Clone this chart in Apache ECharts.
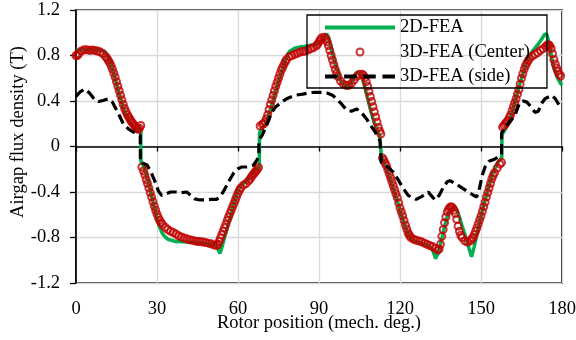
<!DOCTYPE html>
<html>
<head>
<meta charset="utf-8">
<script src="https://cdn.jsdelivr.net/npm/echarts@6/dist/echarts.min.js"></script>
<style>html,body{margin:0;padding:0;background:#fff}#c{width:576px;height:340px}</style>
</head>
<body>
<div id="c"></div>
<script>
// x tick values and y tick values
var xTicks = [0, 30, 60, 90, 120, 150, 180];
var yTicks = [-1.2, -0.8, -0.4, 0, 0.4, 0.8, 1.2];
var seriesNames = ['2D-FEA', '3D-FEA (Center)', '3D-FEA (side)'];

// 2D-FEA [deg, T]
var fea2D = [[0,0.845],[2,0.85],[4,0.852],[8,0.848],[10,0.84],[11,0.825],[12,0.78],[13,0.715],[14,0.64],[15,0.55],[16,0.46],[17,0.38],[18,0.31],[19,0.255],[20,0.21],[21,0.18],[22,0.16],[23,0.145],[24,0.135],[24.05,-0.13],[25,-0.17],[26,-0.245],[27,-0.33],[28,-0.43],[29,-0.54],[30,-0.63],[31,-0.71],[32,-0.765],[33,-0.795],[34,-0.815],[37,-0.835],[45,-0.845],[50,-0.86],[52,-0.87],[53.3,-0.94],[54,-0.89],[55,-0.80],[56,-0.72],[57,-0.63],[58,-0.54],[59,-0.46],[60,-0.39],[61,-0.345],[62,-0.325],[63,-0.31],[64,-0.28],[65,-0.25],[66,-0.22],[67,-0.20],[67.9,-0.185],[67.95,0.12],[68.8,0.155],[70,0.19],[71,0.25],[72.5,0.36],[74,0.49],[75,0.57],[76,0.65],[77,0.72],[78,0.79],[79,0.835],[81,0.865],[83,0.875],[86,0.885],[89,0.90],[91,0.93],[92.8,0.99],[93.6,0.96],[95,0.82],[96,0.73],[97,0.65],[98,0.58],[99,0.545],[100,0.53],[101,0.535],[102,0.56],[103,0.61],[104,0.655],[104.6,0.67],[105.5,0.64],[106.5,0.565],[107.5,0.47],[108.5,0.375],[109.5,0.285],[110.5,0.205],[111.5,0.145],[112.5,0.10],[113.05,0.09],[113.1,-0.09],[114,-0.13],[115,-0.20],[116,-0.265],[117,-0.335],[118,-0.405],[119,-0.48],[120,-0.56],[121,-0.64],[122,-0.71],[123,-0.77],[124,-0.81],[125,-0.83],[127,-0.845],[129,-0.86],[131,-0.88],[132,-0.905],[133.2,-0.985],[134.3,-0.93],[135.3,-0.83],[136.3,-0.72],[137.3,-0.63],[138.5,-0.56],[140.2,-0.53],[141,-0.555],[142,-0.62],[143,-0.70],[144,-0.77],[145,-0.85],[146,-0.93],[146.5,-0.97],[147.5,-0.88],[148.5,-0.77],[149.5,-0.66],[150.5,-0.56],[151.5,-0.47],[152.5,-0.38],[153.5,-0.30],[154.5,-0.23],[155.5,-0.17],[156.5,-0.13],[157.7,-0.10],[157.75,0.10],[158.3,0.125],[160,0.19],[161.5,0.30],[163.2,0.45],[164.5,0.56],[165.7,0.65],[167,0.75],[168.8,0.83],[170,0.865],[171.2,0.90],[172.5,0.945],[173.7,0.99],[174.5,0.98],[175.5,0.87],[176.8,0.71],[178,0.62],[179.3,0.56],[180,0.54]];

// 3D-FEA (Center) [deg, T]
var fea3DCenter = [[0,0.80],[0.5,0.80],[1,0.815],[2,0.84],[3,0.85],[4,0.85],[5,0.845],[6,0.848],[7,0.845],[8,0.84],[9,0.83],[10,0.815],[11,0.79],[11.5,0.775],[12,0.755],[12.5,0.735],[13,0.71],[13.5,0.68],[14,0.645],[14.5,0.61],[15,0.57],[15.5,0.53],[16,0.49],[16.5,0.45],[17,0.41],[17.5,0.37],[18,0.335],[18.5,0.305],[19,0.28],[19.5,0.26],[20,0.24],[20.5,0.22],[21,0.205],[21.5,0.19],[22,0.175],[22.5,0.16],[23,0.15],[23.5,0.16],[24,0.185],
[24.4,-0.18],[25,-0.215],[25.5,-0.25],[26,-0.29],[26.5,-0.325],[27,-0.365],[27.5,-0.405],[28,-0.445],[28.5,-0.485],[29,-0.525],[29.5,-0.56],[30,-0.595],[30.5,-0.625],[31,-0.65],[31.5,-0.67],[32,-0.685],[33,-0.71],[34,-0.73],[35,-0.745],[36,-0.755],[37,-0.77],[38,-0.785],[39,-0.795],[40,-0.805],[41,-0.81],[42,-0.82],[43,-0.825],[44,-0.83],[45,-0.835],[46,-0.835],[47,-0.84],[48,-0.845],[49,-0.85],[50,-0.855],[51,-0.865],[52,-0.87],[52.5,-0.86],[53,-0.835],[53.5,-0.805],[54,-0.775],[54.5,-0.745],[55,-0.715],[55.5,-0.685],[56,-0.65],[56.5,-0.62],[57,-0.59],[57.5,-0.56],[58,-0.53],[58.5,-0.50],[59,-0.47],[59.5,-0.44],[60,-0.41],[60.5,-0.385],[61,-0.365],[62,-0.34],[63,-0.325],[64,-0.30],[64.5,-0.285],[65,-0.265],[65.5,-0.25],[66,-0.235],[66.5,-0.22],[67,-0.205],[67.6,-0.185],
[68.2,0.18],[69,0.195],[69.5,0.20],[70,0.215],[70.5,0.245],[71,0.28],[71.5,0.325],[72,0.37],[72.5,0.41],[73,0.45],[73.5,0.49],[74,0.53],[74.5,0.565],[75,0.60],[75.5,0.635],[76,0.67],[76.5,0.695],[77,0.72],[77.5,0.745],[78,0.765],[79,0.79],[80,0.80],[81,0.81],[82,0.82],[83,0.83],[84,0.835],[85,0.84],[86,0.85],[87,0.86],[88,0.87],[89,0.885],[89.5,0.90],[90,0.92],[90.5,0.94],[91,0.955],[92,0.96],[92.5,0.945],[93,0.92],[93.5,0.885],[94,0.845],[94.5,0.80],[95,0.76],[95.5,0.72],[96,0.68],[96.5,0.645],[97,0.615],[98,0.575],[99,0.55],[100,0.537],[101,0.537],[102,0.555],[103,0.585],[104,0.615],[105,0.635],[106,0.635],[106.5,0.625],[107,0.605],[107.5,0.57],[108,0.53],[108.5,0.485],[109,0.44],[109.5,0.395],[110,0.35],[110.5,0.305],[111,0.26],[111.5,0.215],[112,0.17],[112.5,0.135],[112.9,0.11],
[113.5,-0.10],[114,-0.12],[114.5,-0.145],[115,-0.17],[115.5,-0.205],[116,-0.24],[116.5,-0.275],[117,-0.31],[117.5,-0.345],[118,-0.38],[118.5,-0.415],[119,-0.45],[119.5,-0.495],[120,-0.54],[120.5,-0.575],[121,-0.61],[121.5,-0.65],[122,-0.69],[122.5,-0.725],[123,-0.76],[123.5,-0.78],[124,-0.80],[125,-0.815],[126,-0.825],[127,-0.83],[128,-0.838],[129,-0.85],[130,-0.86],[131,-0.87],[132,-0.88],[133,-0.895],[134,-0.91],[134.5,-0.90],[135,-0.86],[135.5,-0.79],[136,-0.73],[136.5,-0.67],[137,-0.62],[137.5,-0.575],[138,-0.55],[138.5,-0.535],[139,-0.53],[139.5,-0.54],[140,-0.56],[140.5,-0.59],[141,-0.64],[141.5,-0.70],[142,-0.745],[142.5,-0.78],[143,-0.80],[144,-0.83],[145,-0.84],[146,-0.83],[146.5,-0.815],[147,-0.80],[147.5,-0.775],[148,-0.745],[148.5,-0.715],[149,-0.68],[149.5,-0.645],[150,-0.61],[150.5,-0.57],[151,-0.53],[151.5,-0.49],[152,-0.445],[152.5,-0.405],[153,-0.365],[153.5,-0.325],[154,-0.285],[154.5,-0.255],[155,-0.23],[156,-0.19],[157,-0.155],[157.6,-0.14],
[158,0.17],[158.5,0.185],[159,0.20],[159.5,0.215],[160,0.23],[160.5,0.255],[161,0.28],[161.5,0.315],[162,0.35],[162.5,0.385],[163,0.42],[163.5,0.46],[164,0.50],[164.5,0.55],[165,0.60],[165.5,0.64],[166,0.68],[166.5,0.71],[167,0.735],[167.5,0.755],[168,0.775],[169,0.795],[170,0.81],[171,0.825],[172,0.845],[173,0.86],[174,0.88],[174.5,0.89],[175,0.895],[175.5,0.885],[176,0.86],[176.5,0.815],[177,0.765],[177.5,0.725],[178,0.69],[178.5,0.66],[179,0.635],[179.5,0.62]];

// 3D-FEA (side) [deg, T]
var fea3DSide = [[0,0.44],[1.5,0.48],[3.3,0.505],[5,0.47],[7,0.41],[8.3,0.395],[10,0.405],[12,0.42],[13.5,0.39],[15.7,0.29],[17.5,0.20],[19.4,0.155],[21,0.13],[23,0.11],[23.8,0.10],[23.85,-0.14],[26.2,-0.16],[27.5,-0.21],[29.3,-0.31],[30.5,-0.39],[31.7,-0.43],[33,-0.42],[35,-0.40],[37,-0.40],[39,-0.405],[41,-0.40],[42.5,-0.43],[44,-0.46],[46,-0.47],[48,-0.47],[50,-0.465],[52,-0.465],[53.5,-0.44],[55.2,-0.37],[57,-0.29],[58.5,-0.23],[60,-0.195],[61.4,-0.18],[63,-0.18],[65.7,-0.165],[67,-0.12],[67.7,-0.07],[67.75,0.06],[69,0.10],[70,0.155],[71.5,0.24],[72.5,0.30],[74,0.35],[76.2,0.39],[78,0.42],[81,0.45],[84,0.46],[86,0.47],[88,0.475],[91,0.475],[93,0.47],[95,0.45],[96.5,0.42],[98.5,0.37],[100.2,0.32],[102,0.31],[104,0.33],[106,0.29],[107.7,0.24],[109,0.19],[110.7,0.13],[112.6,0.05],[113,0.04],[113.05,-0.14],[115,-0.17],[117.5,-0.225],[119,-0.28],[121,-0.36],[123,-0.43],[126,-0.465],[128,-0.44],[130.5,-0.40],[131.5,-0.43],[133,-0.47],[134.5,-0.43],[136,-0.36],[137.5,-0.31],[138.5,-0.30],[140,-0.32],[143.4,-0.37],[146,-0.41],[148.4,-0.445],[149.5,-0.36],[150.5,-0.25],[151.5,-0.18],[153,-0.13],[155.2,-0.11],[157.6,-0.065],[157.65,0.12],[160,0.20],[162.5,0.27],[164.4,0.39],[165.7,0.40],[167,0.39],[168.1,0.36],[170,0.30],[171.2,0.31],[172.5,0.38],[173.7,0.42],[176.2,0.45],[177.5,0.42],[179.3,0.35],[180,0.34]];

var FONT = 'Liberation Serif';
var chart = echarts.init(document.getElementById('c'), null, {renderer: 'canvas'});
chart.setOption({
  animation: false,
  backgroundColor: '#fff',
  grid: {left: 76, right: 14, top: 10, bottom: 57, show: true, borderColor: '#000', borderWidth: 1.6,
         backgroundColor: 'transparent', containLabel: false, outerBoundsMode: 'none'},
  legend: {
    data: [
      {name: seriesNames[0], icon: 'path://M0,0h70v4h-70z'},
      {name: seriesNames[1], icon: 'circle'},
      {name: seriesNames[2], icon: 'path://M0,0h12v4h-12z M18.3,0h12v4h-12z M36.6,0h12v4h-12z M55,0h12v4h-12z'}
    ],
    orient: 'vertical',
    left: 307, top: 15,
    itemWidth: 70, itemHeight: 7, itemGap: 5.5,
    symbolKeepAspect: true,
    padding: [3, 17, 2, 18],
    borderColor: '#000', borderWidth: 1.3,
    textStyle: {fontFamily: FONT, fontSize: 18.5, color: '#000', lineHeight: 19}
  },
  xAxis: [{
    type: 'value', min: xTicks[0], max: xTicks[xTicks.length - 1], interval: xTicks[1] - xTicks[0],
    name: 'Rotor position (mech. deg.)', nameLocation: 'middle', nameGap: 31, nameMoveOverlap: false,
    nameTextStyle: {fontFamily: FONT, fontSize: 18.5, color: '#000'},
    axisLine: {show: false, onZero: false},
    axisTick: {show: false},
    axisLabel: {fontFamily: FONT, fontSize: 18.5, color: '#000', margin: 17},
    splitLine: {show: true, lineStyle: {color: '#D9D9D9', width: 1.3}}
  }, {
    type: 'value', position: 'bottom', min: xTicks[0], max: xTicks[xTicks.length - 1], interval: xTicks[1] - xTicks[0],
    axisLine: {show: true, onZero: true, lineStyle: {color: '#000', width: 1.6}},
    axisTick: {show: true, inside: false, length: 5, lineStyle: {color: '#000', width: 1.3}},
    axisLabel: {show: false},
    splitLine: {show: false}
  }],
  yAxis: {
    type: 'value', min: yTicks[0], max: yTicks[yTicks.length - 1], interval: 0.4,
    name: 'Airgap flux density (T)', nameLocation: 'middle', nameGap: 48, nameMoveOverlap: false,
    nameTextStyle: {fontFamily: FONT, fontSize: 18.5, color: '#000', padding: [0, 0, 0, 29]},
    axisLine: {show: true, lineStyle: {color: '#000', width: 1.6}},
    axisTick: {show: true, length: 6, lineStyle: {color: '#000', width: 1.3}},
    axisLabel: {fontFamily: FONT, fontSize: 18.5, color: '#000', margin: 16},
    splitLine: {show: true, lineStyle: {color: '#D9D9D9', width: 1.3}}
  },
  series: [{
    name: seriesNames[0], type: 'line', data: fea2D, showSymbol: false, symbol: 'none',
    lineStyle: {color: '#00B050', width: 3.5}, itemStyle: {color: '#00B050'}, z: 2
  }, {
    name: seriesNames[1], type: 'scatter', data: fea3DCenter, symbol: 'circle', symbolSize: 7,
    itemStyle: {color: 'rgba(255,255,255,0)', borderColor: '#C00000', borderWidth: 2}, z: 3
  }, {
    name: seriesNames[2], type: 'line', data: fea3DSide, showSymbol: false, symbol: 'none',
    lineStyle: {color: '#000', width: 3.2, type: [10, 5]}, itemStyle: {color: '#000'}, z: 4
  }]
});
</script>
</body>
</html>
